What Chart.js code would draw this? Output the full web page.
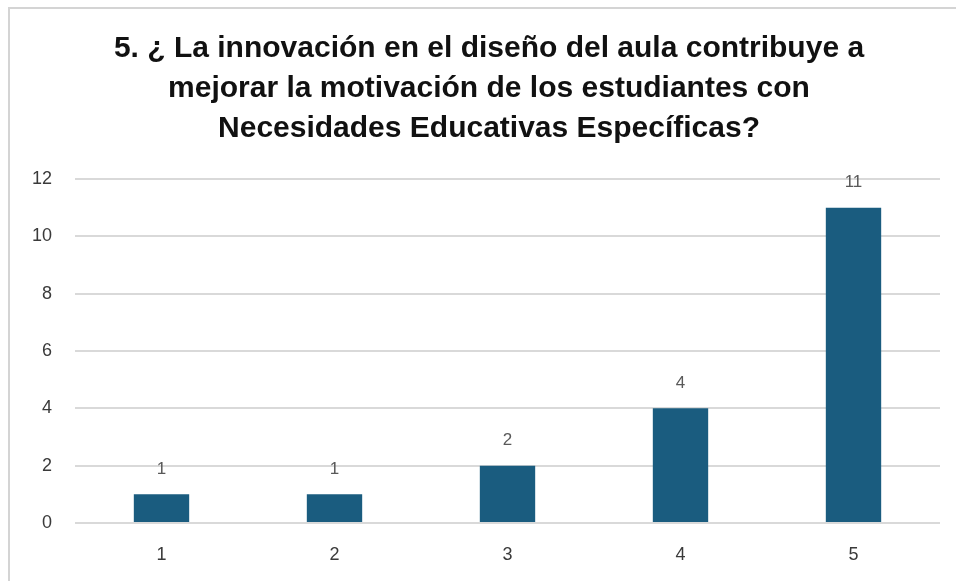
<!DOCTYPE html>
<html>
<head>
<meta charset="utf-8">
<script src="https://cdn.jsdelivr.net/npm/chart.js@4.4.1/dist/chart.umd.min.js"></script>
<style>
  html, body { margin: 0; padding: 0; background: #ffffff; }
  #wrap { position: relative; width: 956px; height: 581px; }
  #frame { position: absolute; left: 8px; top: 7px; right: -4px; bottom: -4px;
           border-top: 2px solid #d4d4d4; border-left: 2px solid #d4d4d4; pointer-events: none; }
  canvas { position: absolute; left: 0; top: 0; }
</style>
</head>
<body>
<div id="wrap">
  <canvas id="c" width="956" height="581"></canvas>
  <div id="frame"></div>
</div>
<script>
const titleLines = [
  "5. ¿ La innovación en el diseño del aula contribuye a",
  "mejorar la motivación de los estudiantes con",
  "Necesidades Educativas Específicas?"
];
const categories = ["1", "2", "3", "4", "5"];
const values = [1, 1, 2, 4, 11];
const yTicks = [0, 2, 4, 6, 8, 10, 12];

const valueLabels = {
  id: 'valueLabels',
  afterLayout(chart) {
    const t = chart.titleBlock;
    if (t) { t.left += 14; t.right += 14; }
  },
  afterDatasetsDraw(chart) {
    const ctx = chart.ctx;
    const meta = chart.getDatasetMeta(0);
    ctx.save();
    ctx.fillStyle = '#595959';
    ctx.font = '17px "Liberation Sans", Arial, sans-serif';
    ctx.textAlign = 'center';
    ctx.textBaseline = 'middle';
    meta.data.forEach((bar, i) => {
      ctx.fillText(String(values[i]), bar.x, bar.y - 25);
    });
    ctx.restore();
  }
};

new Chart(document.getElementById('c'), {
  type: 'bar',
  data: {
    labels: categories,
    datasets: [{
      data: values,
      backgroundColor: '#1a5c7f',
      borderWidth: 0,
      categoryPercentage: 1.0,
      barPercentage: 0.32
    }]
  },
  options: {
    responsive: false,
    animation: false,
    devicePixelRatio: 1,
    layout: { padding: { left: 10, right: 16, top: 29, bottom: 13 } },
    plugins: {
      legend: { display: false },
      tooltip: { enabled: false },
      title: {
        display: true,
        text: titleLines,
        color: '#111111',
        font: { family: '"Liberation Sans", Arial, sans-serif', size: 30, weight: 'bold', lineHeight: 1.333 },
        padding: { top: 0, bottom: 30 }
      }
    },
    scales: {
      x: {
        afterFit(scale) { scale.height = 45; },
        grid: { display: false, drawTicks: false },
        border: { display: false },
        ticks: { color: '#3a3a3a', font: { family: '"Liberation Sans", Arial, sans-serif', size: 18 }, padding: 21 }
      },
      y: {
        min: 0,
        max: 12,
        afterBuildTicks(scale) { scale.ticks = yTicks.map(v => ({ value: v })); },
        afterFit(scale) { scale.width = 65; },
        grid: { color: '#d9d9d9', lineWidth: 2, drawTicks: false },
        border: { display: false },
        ticks: { color: '#3a3a3a', font: { family: '"Liberation Sans", Arial, sans-serif', size: 18 }, padding: 23 }
      }
    }
  },
  plugins: [valueLabels]
});
</script>
</body>
</html>
